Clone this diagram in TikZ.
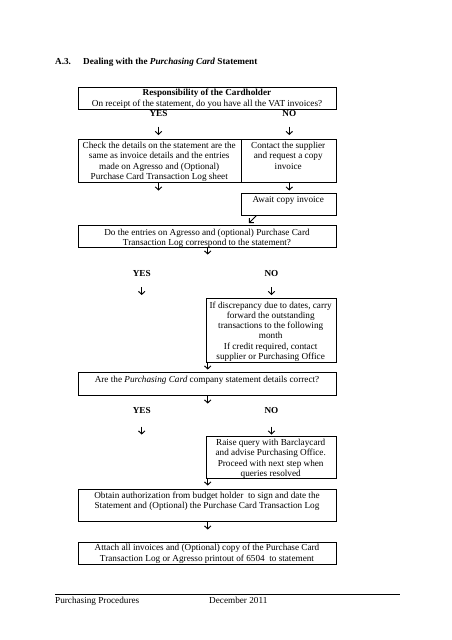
\documentclass[tikz,border=0pt]{standalone}
\usepackage{fontspec}
\setmainfont{Liberation Serif}
\usetikzlibrary{arrows.meta,calc}
\begin{document}
\begin{tikzpicture}[x=1pt,y=-1pt,
  box/.style={draw,line width=0.8pt,inner sep=0pt,anchor=north west},
  txt/.style={font=\fontsize{9.2}{10.4}\selectfont,align=center,inner sep=0pt,anchor=north},
  lbl/.style={font=\fontsize{9.2}{10.4}\selectfont\bfseries,inner sep=0pt},
  arr/.style={line width=0.95pt,-{Straight Barb[length=3pt,width=6.5pt,line width=0.95pt]}}]
\useasboundingbox[fill=white] (0,0) rectangle (452,640);

% title
\node[lbl,anchor=base west] (ttlA) at (55,64) {A.3.};
\node[lbl,anchor=base west] (ttlB) at (83,64) {Dealing with the \textit{Purchasing Card} Statement};

% boxes
\node[box,minimum width=258pt,minimum height=22.5pt] (b1) at (78,86.5) {};
\node[txt] (t1) at (207,89.3) {\textbf{Responsibility of the Cardholder}\\On receipt of the statement, do you have all the VAT invoices?};
\node[lbl] (y1) at (158.5,113.7) {YES};
\node[lbl] (n1) at (289.3,113.7) {NO};

\node[box,minimum width=162.5pt,minimum height=43pt] (b2l) at (78,139.3) {};
\node[txt,font=\fontsize{9.2}{10.6}\selectfont] (t2l) at (159.25,141.6) {Check the details on the statement are the\\same as invoice details and the entries\\made on Agresso and (Optional)\\Purchase Card Transaction Log sheet};
\node[box,minimum width=95.5pt,minimum height=43pt] (b2r) at (240.5,139.3) {};
\node[txt,font=\fontsize{9.2}{10.6}\selectfont] (t2r) at (288.25,141.8) {Contact the supplier\\and request a copy\\invoice};

\node[box,minimum width=95.5pt,minimum height=22pt] (b3) at (240.5,192.5) {};
\node[txt] (t3) at (288.25,195.8) {Await copy invoice};

\node[box,minimum width=258pt,minimum height=21.5pt] (b4) at (78,225) {};
\node[txt] (t4) at (207,228.8) {Do the entries on Agresso and (optional) Purchase Card\\Transaction Log correspond to the statement?};
\node[lbl] (y2) at (141.7,273.3) {YES};
\node[lbl] (n2) at (271.5,273.3) {NO};

\node[box,minimum width=130pt,minimum height=63.7pt] (b5) at (205.7,298) {};
\node[txt,font=\fontsize{9.2}{10.1}\selectfont] (t5) at (270.7,302) {If discrepancy due to dates, carry\\forward the outstanding\\transactions to the following\\month\\If credit required, contact\\supplier or Purchasing Office};

\node[box,minimum width=258pt,minimum height=23pt] (b6) at (78,371.5) {};
\node[txt] (t6) at (207,376) {Are the \textit{Purchasing Card} company statement details correct?};
\node[lbl] (y3) at (141.7,410) {YES};
\node[lbl] (n3) at (271.5,410) {NO};

\node[box,minimum width=130pt,minimum height=41.5pt] (b7) at (205.7,436) {};
\node[txt] (t7) at (270.7,438.7) {Raise query with Barclaycard\\and advise Purchasing Office.\\Proceed with next step when\\queries resolved};

\node[box,minimum width=258pt,minimum height=32pt] (b8) at (78,489) {};
\node[txt] (t8) at (207,491.7) {Obtain authorization from budget holder\ \ to sign and date the\\Statement and (Optional) the Purchase Card Transaction Log};

\node[box,minimum width=258pt,minimum height=21.5pt] (b9) at (78,542) {};
\node[txt] (t9) at (207,544.3) {Attach all invoices and (Optional) copy of the Purchase Card\\Transaction Log or Agresso printout of 6504\ \ to statement};

% arrows
\coordinate (a1s) at (158.5,126.5); \coordinate (a1e) at (158.5,135);
\coordinate (a2s) at (289.3,126.5); \coordinate (a2e) at (289.3,135);
\coordinate (a3s) at (158.5,182.5); \coordinate (a3e) at (158.5,190.5);
\coordinate (a4s) at (289.3,182.5); \coordinate (a4e) at (289.3,190.5);
\coordinate (a5s) at (256.5,215.5); \coordinate (a5e) at (249,223);
\coordinate (a6s) at (207.7,246.5); \coordinate (a6e) at (207.7,254.5);
\coordinate (a7s) at (141.7,287); \coordinate (a7e) at (141.7,295);
\coordinate (a8s) at (271.5,287); \coordinate (a8e) at (271.5,295);
\coordinate (a9s) at (207.7,361.5); \coordinate (a9e) at (207.7,369.5);
\coordinate (a10s) at (207.7,395.5); \coordinate (a10e) at (207.7,403.5);
\coordinate (a11s) at (141.7,426.5); \coordinate (a11e) at (141.7,434.5);
\coordinate (a12s) at (271.5,426.5); \coordinate (a12e) at (271.5,434.5);
\coordinate (a13s) at (207.7,477.5); \coordinate (a13e) at (207.7,485.5);
\coordinate (a14s) at (207.7,521.5); \coordinate (a14e) at (207.7,529.5);
\foreach \i in {1,...,14} {\draw[arr] (a\i s) -- (a\i e);}

% footer
\coordinate (fl) at (55,594); \coordinate (fr) at (400,594);
\draw[line width=0.8pt] (fl) -- (fr);
\node[anchor=base west,inner sep=0pt,font=\fontsize{9.2}{10.4}\selectfont] (f1) at (55,603) {Purchasing Procedures};
\node[anchor=base west,inner sep=0pt,font=\fontsize{9.2}{10.4}\selectfont] (f2) at (209,603) {December 2011};
\end{tikzpicture}
\end{document}
